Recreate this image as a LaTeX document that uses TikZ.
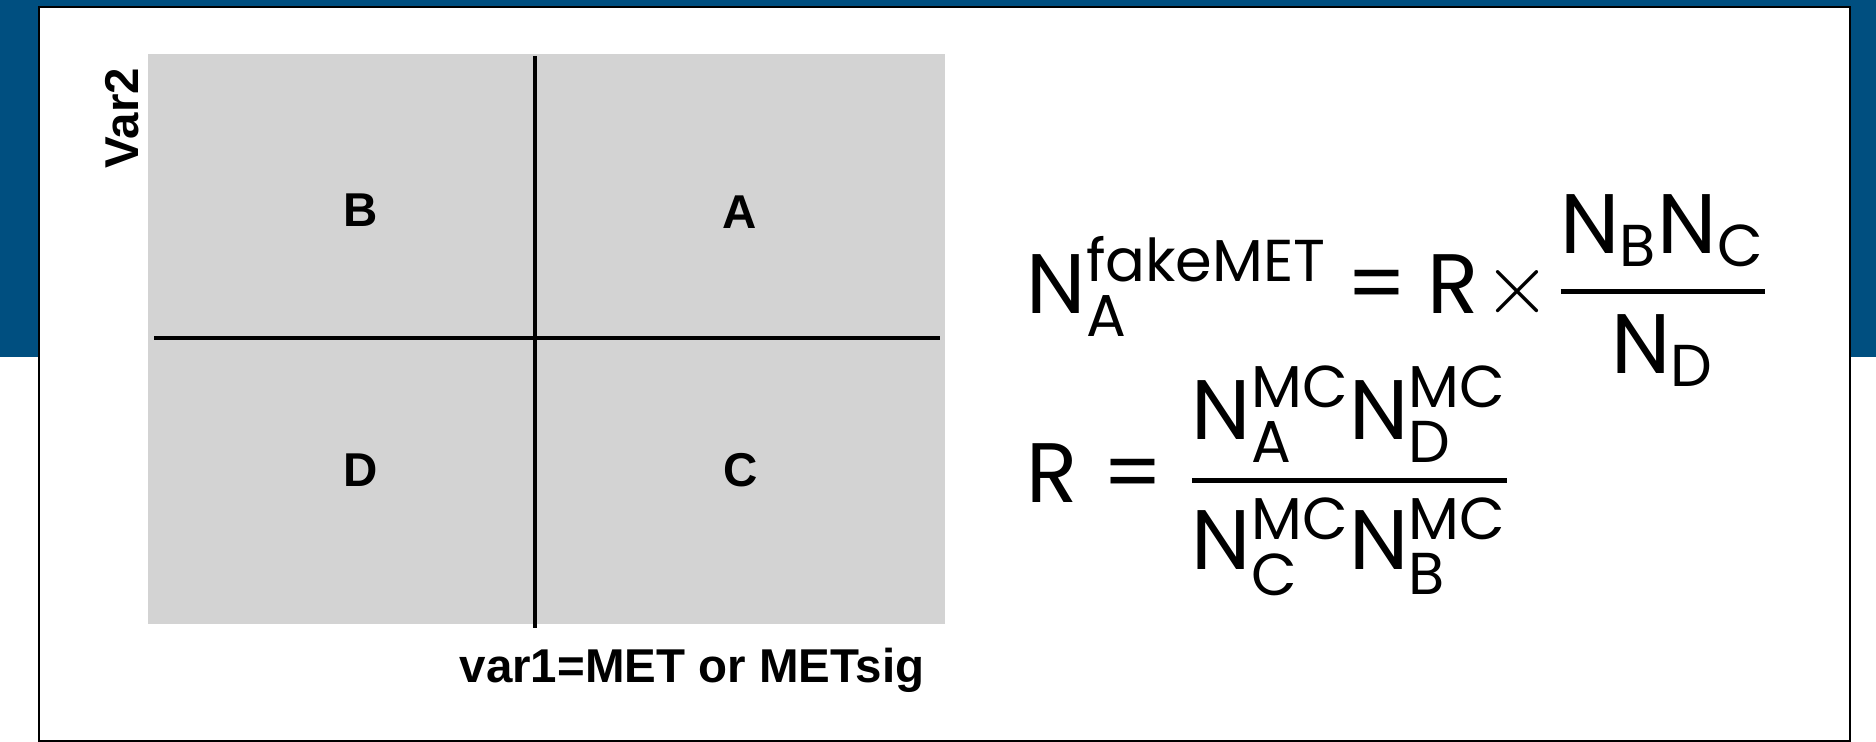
\documentclass[tikz,border=0pt]{standalone}
\usepackage{amsmath}
\usepackage{fontspec}
\setsansfont{Liberation Sans}
\setmathsf{Poppins}
\newfontfamily\eqfont{Poppins}
\usetikzlibrary{positioning,calc}
\definecolor{bandblue}{RGB}{0,79,128}
\definecolor{cellgray}{RGB}{211,211,211}
\newcommand{\eqsign}{\mathrel{\hbox{\eqfont =}}}
\newcommand{\Nof}[2]{\mathsf{N}^{\mathsf{#2}}_{\mathsf{#1}}}

\begin{document}
\begin{tikzpicture}[x=0.01cm, y=-0.01cm,
  cell/.style={font=\sffamily\bfseries\fontsize{13.5}{16}\selectfont, inner sep=0pt},
  axislabel/.style={font=\sffamily\bfseries\fontsize{13.5}{16}\selectfont, inner sep=0pt},
  plane/.style={fill=cellgray, minimum width=7.97cm, minimum height=5.70cm, inner sep=0pt},
  divider/.style={line width=1.2pt},
  eq/.style={anchor=base west, inner sep=0pt, font=\fontsize{24}{29}\selectfont}
]
  \useasboundingbox (0,0) rectangle (1876,741);
  % background band and slide frame
  \fill[bandblue] (0,0) rectangle (1876,357);
  \filldraw[fill=white, draw=black, line width=0.8pt] (39,7) rectangle (1850,741);

  % ABCD plane
  \node[plane] (plane) at (546.5,339) {};
  \coordinate (vtop) at (535,56);
  \coordinate (vbot) at (535,628);
  \coordinate (hleft) at (154,338);
  \coordinate (hright) at (940,338);
  \draw[divider] (vtop) -- (vbot);
  \draw[divider] (hleft) -- (hright);

  \node[cell] (B) at (361,210) {B};
  \node[cell] (A) at (740,212) {A};
  \node[cell] (D) at (361,470) {D};
  \node[cell] (C) at (741,470) {C};

  \node[axislabel, rotate=90] (var2) at (122,118) {Var2};
  \node[axislabel, anchor=base] (var1) at (692,682) {var1=MET or METsig};

  % ABCD estimate
  \node[eq] (fake) at (1026,313)
    {$\medmuskip=1mu \thickmuskip=4mu
      \Nof{A}{fakeMET} \eqsign \mathsf{R} \times
      \genfrac{}{}{1.4pt}{0}{\mathsf{N}_{\mathsf{B}}\mathsf{N}_{\mathsf{C}}}{\mathsf{N}_{\mathsf{D}}}$};
  \node[eq] (ratio) at (1026,502)
    {$\mathsf{R} \eqsign
      \genfrac{}{}{1.4pt}{0}{\Nof{A}{MC}\Nof{D}{MC}}{\Nof{C}{MC}\Nof{B}{MC}}$};
\end{tikzpicture}
\end{document}
